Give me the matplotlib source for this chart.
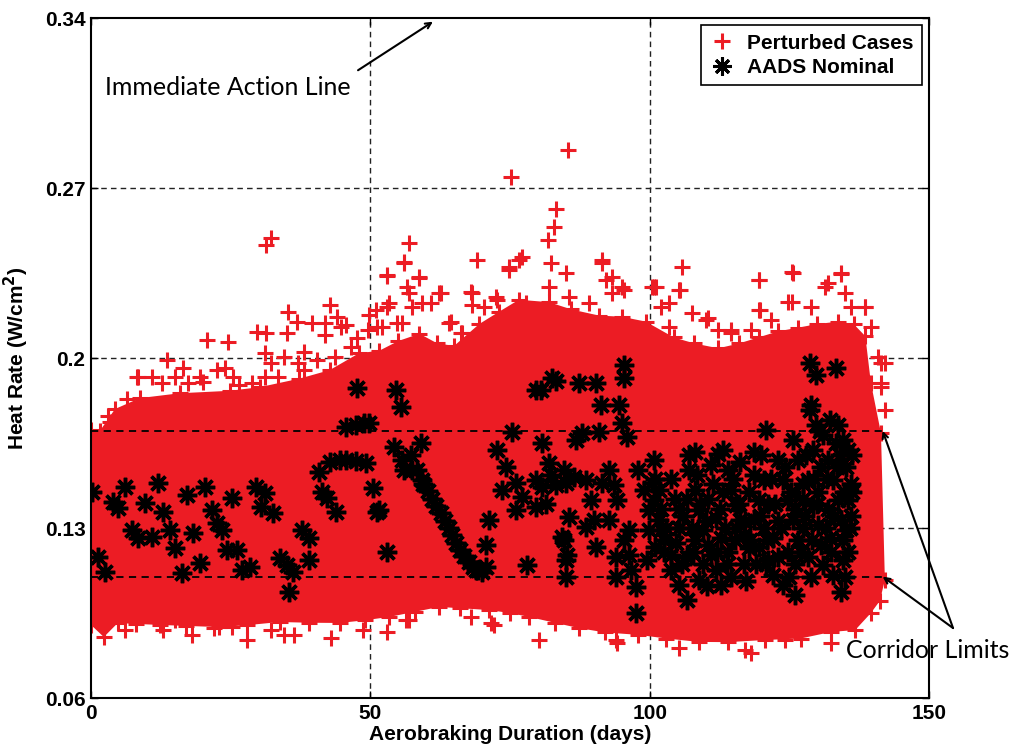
import matplotlib
matplotlib.use('Agg')
import matplotlib.pyplot as plt
from matplotlib.lines import Line2D

# ---------------- data ----------------
x_ticks = [0, 50, 100, 150]
y_ticks = [0.06, 0.13, 0.2, 0.27, 0.34]
y_tick_labels = ['0.06', '0.13', '0.2', '0.27', '0.34']

# Perturbed cases: outline of the dense cloud (top, right side, bottom)
cloud_top_x = [0, 1.6, 4.3, 8.75, 15.9, 24.8, 30.2, 37.3, 42.7, 48, 51.6, 55, 58.8, 62, 65,
               69.5, 73, 76.6, 82, 86, 90.9, 95, 99.3, 104.3, 108, 112.3, 116, 119.5, 123,
               126.6, 130, 133.75, 136.5, 138.6]
cloud_top_y = [0.1704, 0.170, 0.1790, 0.1835, 0.1855, 0.1865, 0.1880, 0.1915, 0.1950, 0.2020,
               0.2030, 0.207, 0.2100, 0.206, 0.205, 0.2140, 0.219, 0.224, 0.2230, 0.220, 0.2175,
               0.217, 0.2150, 0.2085, 0.206, 0.2040, 0.206, 0.2085, 0.211, 0.2125, 0.214,
               0.2150, 0.214, 0.2090]
cloud_right_x = [139.6, 141.4, 142.1, 141.2, 139.6, 136.8]
cloud_right_y = [0.1897, 0.1691, 0.1086, 0.100, 0.095, 0.088]
cloud_bottom_x = [0, 2.3, 4.8, 8, 12.3, 17, 23, 28, 33.75, 39, 44.5, 49, 53.4, 58, 62.3, 66,
                  71.25, 75, 78.4, 83, 87.3, 92, 98, 103, 108.75, 114, 120.7, 127, 132.5]
cloud_bottom_y = [0.0901, 0.0851, 0.0909, 0.0905, 0.0901, 0.0897, 0.0892, 0.0900, 0.0913,
                  0.0910, 0.0909, 0.0920, 0.0934, 0.0955, 0.0975, 0.0970, 0.0962, 0.0950,
                  0.0934, 0.091, 0.0888, 0.087, 0.0860, 0.0845, 0.0831, 0.0830, 0.0839,
                  0.0845, 0.0872]

# Perturbed cases: scattered points outside the dense cloud
pert_x = [31.3, 32.3, 57.0, 56.1, 69.1, 52.9, 58.75, 56.6, 62.7, 68.0,
          85.4, 75.2, 83.2, 82.9, 81.8, 77.1, 74.8, 91.4, 105.7, 119.5, 125.7, 134.3, 132.0,
          100.7, 105.5, 138.6, 142.1, 141.4, 125.4, 119.8, 114.6, 110.0, 95.4, 93.2,
          8.4, 13.6, 16.4, 19.5, 20.7, 24.5, 22.5, 25.4, 29.8, 31.4, 35.2, 36.8, 39.5, 42.7,
          44.1, 45.7, 49.8, 35.0, 31.1, 41.8, 38.2, 0.5, 0.5, 0.5, 3.4, 5.7, 8.2,
          6.1, 12.9, 15.0, 18.0, 22.1, 25.2, 28.0, 32.3, 34.6, 36.4, 43.0, 48.6, 52.9, 56.4,
          68.0, 71.6, 57.0, 72.1, 80.2, 94.1, 93.9, 105.2, 117.1, 124.3, 132.5, 118.2]
pert_y = [0.2465, 0.2493, 0.2474, 0.2395, 0.2404, 0.2338, 0.2334, 0.2292, 0.2268, 0.2272,
          0.2857, 0.2745, 0.2614, 0.2539, 0.2486, 0.2416, 0.2375, 0.2404, 0.2375, 0.2321,
          0.2350, 0.2346, 0.2309, 0.2292, 0.2280, 0.2210, 0.1980, 0.1897, 0.2230, 0.2198,
          0.2115, 0.2156, 0.2280, 0.2334,
          0.1922, 0.1992, 0.1959, 0.1922, 0.2074, 0.2066, 0.1951, 0.1922, 0.2107, 0.2103,
          0.2189, 0.2148, 0.2144, 0.2218, 0.2169, 0.2136, 0.2177, 0.2103, 0.2021, 0.2095,
          0.2025, 0.166, 0.155, 0.150, 0.1736, 0.1765, 0.1920,
          0.0880, 0.0880, 0.0921, 0.0860, 0.0888, 0.0892, 0.0839, 0.0880, 0.0860, 0.0860,
          0.0847, 0.0880, 0.0872, 0.0921, 0.0934, 0.0909, 0.0921, 0.0901, 0.0839, 0.0827,
          0.0839, 0.0806, 0.0798, 0.0839, 0.0827, 0.0785]

# Perturbed cases: fringe of points just above the dense cloud
fringe_x = [41.8, 44.8, 47.7, 49.5, 51.25, 53.0, 54.8, 57.5, 60.9, 64.5, 66.25, 70.4, 72.7,
            32.3, 34.6, 37.0, 33.4, 38.2, 40.5, 43.6, 46.6, 10.9, 12.7, 15.0, 17.3, 28.75,
            31.1, 52.9, 56.1, 58.75, 57.0, 53.4, 62.3, 59.3, 55.7, 52.1, 64.1, 68.2, 68.2,
            72.5, 74.8, 76.6, 77.9, 82.3, 85.0, 82.0, 85.5, 91.4, 92.1, 93.2, 95.0, 89.1,
            101.1, 102.1, 103.4, 51.0, 66.4, 100.4, 105.2, 103.4, 107.5, 110.5, 112.3, 114.6,
            119.5, 119.5, 121.8, 118.2, 125.4, 124.8, 128.9, 131.4, 134.3, 135.0, 136.1,
            138.6, 139.6, 140.9, 141.4, 141.4, 142.1, 3.0, 6.5, 20.0, 24.0, 26.5]
fringe_y = [0.2144, 0.2128, 0.2082, 0.2115, 0.2128, 0.2210, 0.2144, 0.2210, 0.2227, 0.2148,
            0.2103, 0.2210, 0.2239, 0.1980, 0.2004, 0.1980, 0.1922, 0.1951, 0.1992, 0.2004,
            0.2045, 0.1922, 0.1897, 0.1922, 0.1897, 0.1897, 0.1922, 0.2342, 0.2391, 0.2329,
            0.2268, 0.2227, 0.2268, 0.2227, 0.2144, 0.2128, 0.2144, 0.2268, 0.2218, 0.2251,
            0.2362, 0.2404, 0.2227, 0.2391, 0.2350, 0.2292, 0.2251, 0.2391, 0.2321, 0.2268,
            0.2292, 0.2227, 0.2292, 0.2210, 0.2128, 0.2198, 0.2103, 0.2292, 0.2280, 0.2227,
            0.2185, 0.2165, 0.2115, 0.2103, 0.2321, 0.2198, 0.2156, 0.2115, 0.2354, 0.2231,
            0.2210, 0.2292, 0.2350, 0.2268, 0.2210, 0.2210, 0.2128, 0.2004, 0.1980, 0.1881,
            0.1786, 0.1760, 0.1830, 0.1900, 0.1960, 0.1890]

# AADS nominal
nom_x = [0.2, 1.25, 2.5, 3.9, 4.8, 6.1, 7.3, 8.4, 9.6, 10.9, 12, 12.9, 14.1, 15, 16.25, 17.1,
         18.2, 19.5, 20.4, 21.6, 22.5, 23.4, 24.3, 25.2, 26.1, 27.1, 28.4, 29.6, 30.5, 31.1,
         32.5, 33.75, 35, 36.1, 35.5, 37.7, 39.1, 39.1, 41.4, 42.3, 43.9, 40.9, 42.7, 44.5,
         45.7, 47.5, 49.3, 50.4, 45.7, 47.5, 47.7, 48.9, 51.25,
         51.6, 52.9, 54.6, 55.5, 54.3, 55.7, 57.5, 59.1, 59.3, 56.1, 57.3, 58.4, 49.8,
         59.5, 60.3, 61.0, 61.8, 62.6, 63.3, 64.0, 64.7, 65.4, 66.1, 66.8, 67.6, 68.4, 69.2,
         70.0, 68.9, 70.7,
         71.25, 70.7, 72.7, 74.3, 76, 73.6, 77.1, 79.6, 76, 80.7, 75.4, 79.6, 80.5, 82.5, 83.2,
         87.3, 90.4, 91.25, 94.5, 95.4, 95.4, 95, 95.9, 86.8, 90.9, 87.9, 80.7, 82, 79.6, 85,
         88.6, 91.4, 98, 100.4, 78, 84.3, 85, 85, 85.5, 88.6, 90.4, 93.9, 93.9, 97.5, 97.5,
         92.7, 96.25, 101, 102.1, 82.3, 83.2, 84.6, 86.5, 92.7, 93.6, 94.1, 89.5, 90, 95.4,
         96.25, 96.6, 98.9, 99.8, 99.8, 99.5, 84.6, 85.2, 81.5,
         100.7, 100.7, 101.6, 101.6, 102.5, 102.5, 103.75, 103.75, 103.75, 105.2, 105.2, 105.2,
         106.6, 106.6, 106.6, 107.0, 107.0, 108.2, 108.2, 108.75, 108.75, 109.6, 109.6, 110.5,
         110.5, 111.0, 111.0, 111.8, 111.8, 112.7, 112.7, 113.2, 113.2, 114.1, 114.1, 114.6,
         114.6, 115.5, 115.5, 116.25, 116.25, 116.8, 116.8, 117.7, 117.7, 118.6, 118.6, 119.5,
         119.5, 120.4, 120.4, 120.9, 120.9, 121.25, 121.25, 122.1, 122.1, 122.9, 122.9, 123.9,
         123.9, 124.8, 124.8, 125.7, 125.7, 126.1, 126.1, 126.6, 126.6, 127.5, 127.5, 127.5,
         128.4, 128.4, 128.75, 128.75, 128.9, 128.9, 129.3, 129.3, 129.8, 129.8, 130.2, 130.2,
         130.7, 130.7, 131.1, 131.1, 132.0, 132.0, 132.3, 132.3, 132.9, 132.9, 133.4, 133.4,
         133.75, 133.75, 134.3, 134.3, 134.6, 134.6, 134.6, 135.2, 135.2, 135.5, 135.5, 135.5,
         136.0, 136.0, 108.2, 112.3, 118.6,
         101.0, 102.0, 103.0, 104.5, 104.8, 105.8, 106.0, 107.5, 107.8, 108.5, 109.0, 110.0,
         110.2, 111.3, 112.0, 112.5, 113.5, 113.8, 115.0, 115.2, 116.0, 117.0, 117.3, 118.0,
         119.0, 119.8, 120.0, 121.0, 121.8, 122.5, 123.0, 123.5, 124.2, 125.0, 125.3, 126.0,
         127.0, 127.8, 128.0, 129.0, 129.5, 130.0, 130.5, 131.5, 131.8, 132.5, 133.0, 133.5,
         134.0, 134.8, 135.0, 135.8, 136.2, 136.3]
nom_y = [0.1448, 0.1181, 0.1119, 0.1407, 0.1382, 0.1469, 0.1292, 0.1259, 0.1403, 0.1263,
         0.1485, 0.1366, 0.1292, 0.1218, 0.1115, 0.1436, 0.1279, 0.1156, 0.1469, 0.1374,
         0.1321, 0.1292, 0.1209, 0.1424, 0.1209, 0.1127, 0.1139, 0.1469, 0.1387, 0.1444,
         0.1362, 0.1177, 0.1148, 0.1119, 0.1036, 0.1292, 0.1259, 0.1168, 0.1448, 0.1424,
         0.1366, 0.1531, 0.1572, 0.1580, 0.1580, 0.1576, 0.1568, 0.1465, 0.1716, 0.1724,
         0.1876, 0.1732, 0.1366,
         0.1374, 0.1201, 0.1868, 0.1798, 0.1634, 0.1580, 0.1539, 0.1650, 0.1498, 0.1539,
         0.1601, 0.1539, 0.1732,
         0.1480, 0.1452, 0.1420, 0.1390, 0.1360, 0.1330, 0.1300, 0.1270, 0.1240, 0.1210,
         0.1185, 0.1160, 0.1140, 0.1127, 0.1120, 0.1127, 0.1140,
         0.1333, 0.1230, 0.1621, 0.1551, 0.1485, 0.1457, 0.1428, 0.1387, 0.1374, 0.1469,
         0.1695, 0.1868, 0.1870, 0.1918, 0.1905, 0.1897, 0.1897, 0.1806, 0.1806, 0.1971,
         0.1918, 0.1732, 0.1675, 0.1662, 0.1695, 0.1691, 0.1650, 0.1568, 0.1498, 0.1485,
         0.1498, 0.1485, 0.1539, 0.1485, 0.1148, 0.1263, 0.1168, 0.1098, 0.1345, 0.1304,
         0.1222, 0.1181, 0.1098, 0.1057, 0.0950, 0.1333, 0.1292, 0.1222, 0.1292, 0.1518,
         0.1477, 0.1539, 0.1510, 0.1539, 0.1477, 0.1415, 0.1415, 0.1333, 0.1251, 0.1189,
         0.1127, 0.1457, 0.1374, 0.1292, 0.1168, 0.1251, 0.1189, 0.1400,
         0.1580, 0.1415, 0.1333, 0.1457, 0.1251, 0.1200, 0.1189, 0.1127, 0.1500, 0.1065,
         0.1300, 0.1380, 0.1004, 0.1180, 0.1420, 0.1601, 0.1539, 0.1457, 0.1250, 0.1374,
         0.1086, 0.1292, 0.1150, 0.1230, 0.1420, 0.1189, 0.1560, 0.1127, 0.1340, 0.1065,
         0.1260, 0.1621, 0.1450, 0.1539, 0.1200, 0.1457, 0.1100, 0.1395, 0.1300, 0.1333,
         0.1570, 0.1271, 0.1150, 0.1218, 0.1450, 0.1333, 0.1520, 0.1415, 0.1220, 0.1498,
         0.1300, 0.1704, 0.1150, 0.1168, 0.1400, 0.1106, 0.1260, 0.1580, 0.1330, 0.1498,
         0.1065, 0.1415, 0.1200, 0.1333, 0.1662, 0.1024, 0.1150, 0.1251, 0.1580, 0.1420,
         0.1300, 0.1480, 0.1498, 0.1180, 0.1786, 0.1979, 0.1806, 0.1100, 0.1395, 0.1620,
         0.1724, 0.1930, 0.1313, 0.1450, 0.1230, 0.1550, 0.1148, 0.1683, 0.1580, 0.1380,
         0.1745, 0.1260, 0.1498, 0.1106, 0.1959, 0.1650, 0.1724, 0.1415, 0.1333, 0.1036,
         0.1251, 0.1168, 0.1662, 0.1292, 0.1550, 0.1621, 0.1415, 0.1200, 0.1480, 0.1350,
         0.1613, 0.1605, 0.1613,
         0.1500, 0.1380, 0.1300, 0.1420, 0.1240, 0.1150, 0.1350, 0.1300, 0.1200, 0.1520,
         0.1400, 0.1330, 0.1060, 0.1480, 0.1200, 0.1380, 0.1300, 0.1150, 0.1500, 0.1250,
         0.1400, 0.1330, 0.1080, 0.1250, 0.1150, 0.1350, 0.1600, 0.1250, 0.1500, 0.1400,
         0.1180, 0.1300, 0.1550, 0.1100, 0.1450, 0.1380, 0.1200, 0.1350, 0.1600, 0.1250,
         0.1500, 0.1400, 0.1700, 0.1300, 0.1500, 0.1200, 0.1350, 0.1550, 0.1600, 0.1450,
         0.1100, 0.1300, 0.1600, 0.1450]

corridor_levels = [0.11, 0.17]
corridor_x = [0, 141.5]

RED = '#EC1C24'

fig = plt.figure(figsize=(10.2, 7.52), dpi=100)
ax = fig.add_axes([0.0892, 0.0718, 0.8216, 0.9042])

# grid
for xv in [50, 100]:
    ax.axvline(xv, color='#222222', lw=1.0, ls=(0, (4, 3)), zorder=1)
for yv in [0.13, 0.2, 0.27]:
    ax.axhline(yv, color='#222222', lw=1.0, ls=(0, (4, 3)), zorder=1)

# perturbed cloud
poly_x = cloud_top_x + cloud_right_x + cloud_bottom_x[::-1]
poly_y = cloud_top_y + cloud_right_y + cloud_bottom_y[::-1]
ax.fill(poly_x, poly_y, color=RED, lw=0, zorder=2)
edge_x = cloud_top_x + cloud_right_x + cloud_bottom_x + pert_x + fringe_x
edge_y = cloud_top_y + cloud_right_y + cloud_bottom_y + pert_y + fringe_y
ax.plot(edge_x, edge_y, ls='none', marker='+', ms=11, mew=2.2, color=RED, zorder=2)

# corridor lines
for lv in corridor_levels:
    ax.plot(corridor_x, [lv, lv], color='k', lw=1.3, ls=(0, (4, 3)), zorder=3)

# nominal
ax.plot(nom_x, nom_y, ls='none', marker=(8, 2, 0), ms=14, mew=2.5, color='k', zorder=4)

ax.set_xlim(0, 150)
ax.set_ylim(0.06, 0.34)
ax.set_xticks(x_ticks)
ax.set_yticks(y_ticks)
ax.set_yticklabels(y_tick_labels)
for lab in ax.get_xticklabels() + ax.get_yticklabels():
    lab.set_fontfamily('Liberation Sans')
    lab.set_fontweight('bold')
    lab.set_fontsize(15)
ax.tick_params(direction='in', length=5, width=1, top=True, right=True, pad=4)
for sp in ax.spines.values():
    sp.set_linewidth(1.5)
    sp.set_zorder(6)

ax.set_xlabel('Aerobraking Duration (days)', fontfamily='Liberation Sans',
              fontweight='bold', fontsize=15, labelpad=2)
ax.set_ylabel('Heat Rate (W/cm$^\\mathbf{2}$)', fontfamily='Liberation Sans',
              fontweight='bold', fontsize=15, labelpad=10)

handles = [Line2D([], [], ls='none', marker='+', ms=11, mew=2.2, color=RED),
           Line2D([], [], ls='none', marker=(8, 2, 0), ms=13, mew=2.2, color='k')]
leg = ax.legend(handles, ['Perturbed Cases', 'AADS Nominal'], loc='upper right',
                fancybox=False, edgecolor='k', framealpha=1, handlelength=1.2,
                borderaxespad=0.35, labelspacing=0.25, handletextpad=0.6,
                prop={'family': 'Liberation Sans', 'weight': 'bold', 'size': 15})
leg.get_frame().set_linewidth(1.2)
leg.set_zorder(7)

# annotations
ax.text(2.5, 0.3112, 'Immediate Action Line', fontfamily='Lato', fontsize=18,
        ha='left', va='center', zorder=7)
ax.annotate('', xy=(61.2, 0.3385), xytext=(47.8, 0.3185),
            arrowprops=dict(arrowstyle='->', lw=1.5, color='k', shrinkA=0, shrinkB=0),
            zorder=7)
ax.text(135.2, 0.0794, 'Corridor Limits', fontfamily='Lato', fontsize=18,
        ha='left', va='center', zorder=7, clip_on=False)
for lv in corridor_levels:
    ax.annotate('', xy=(141.7, lv), xytext=(154.3, 0.0888),
                arrowprops=dict(arrowstyle='->', lw=1.5, color='k', shrinkA=0, shrinkB=0),
                annotation_clip=False, zorder=7)

fig.savefig('out.png', dpi=100)
